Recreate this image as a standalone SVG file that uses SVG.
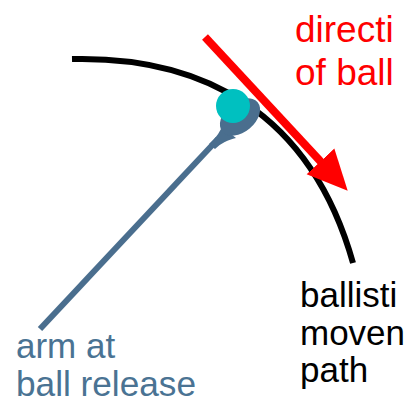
<svg xmlns="http://www.w3.org/2000/svg" width="412" height="405" viewBox="0 0 412 405">
  <style>
    text { font-family: "Liberation Sans", Arial, sans-serif; }
    .red { fill: #FF0000; font-size: 37px; }
    .blk { fill: #000000; font-size: 35px; }
    .blu { fill: #4A7393; font-size: 35px; }
    .arm { fill: #4A6E8E; stroke: none; }
  </style>
  <defs>
    <marker id="redhead" markerUnits="userSpaceOnUse" markerWidth="40" markerHeight="40" viewBox="0 0 36 34" refX="2" refY="17" orient="auto">
      <path d="M0,0 L36,17 L0,34 Z" fill="#FF0000"/>
    </marker>
  </defs>
  <rect width="412" height="405" fill="#FFFFFF"/>

  <g id="path-curve">
    <path d="M72,59 C200,56 310,110 353,263" fill="none" stroke="#000000" stroke-width="6"/>
  </g>

  <g id="arm">
    <line x1="40" y1="329" x2="218" y2="139" stroke="#4A6E8E" stroke-width="6" stroke-linecap="butt"/>
    <path class="arm" d="M209,144 C216,138 219,133 222,127 L236,138 C228,140 221,143 215,149 Z"/>
    <ellipse class="arm" cx="240" cy="117" rx="23" ry="15" transform="rotate(-40 240 117)"/>
    <circle cx="233" cy="106" r="17" fill="#00C0C0"/>
  </g>

  <g id="connectors">
    <line x1="205" y1="37" x2="322" y2="163" stroke="#FF0000" stroke-width="8" marker-end="url(#redhead)"/>
  </g>

  <g id="label-direction">
    <text class="red" x="295" y="42">directi</text>
    <text class="red" x="295" y="85">of ball</text>
  </g>
  <g id="label-ballistic">
    <text class="blk" x="300" y="307">ballisti</text>
    <text class="blk" x="300" y="345">moven</text>
    <text class="blk" x="300" y="382">path</text>
  </g>
  <g id="label-arm">
    <text class="blu" x="16" y="358">arm at</text>
    <text class="blu" x="16" y="396" textLength="180" lengthAdjust="spacingAndGlyphs">ball release</text>
  </g>
</svg>
